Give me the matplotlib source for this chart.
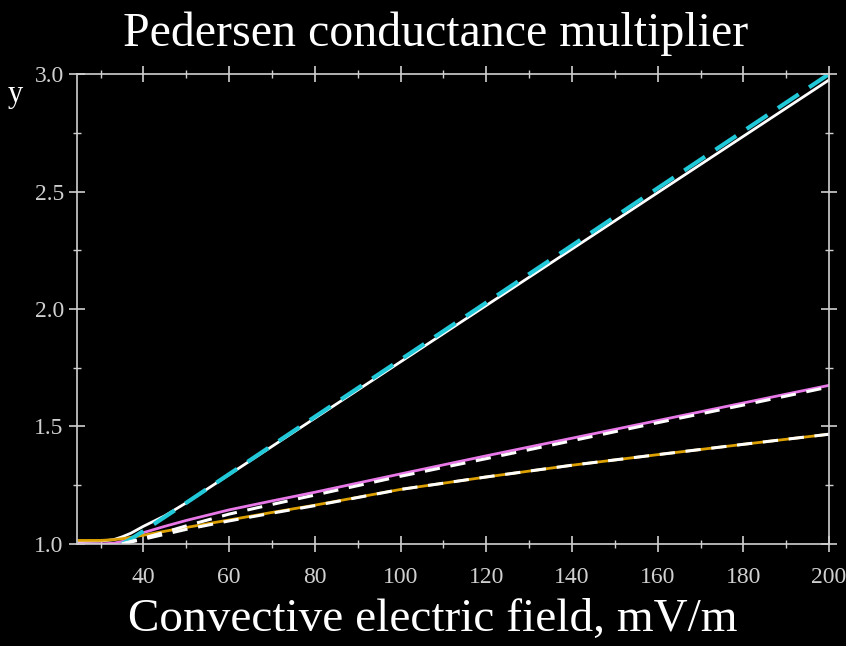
import numpy as np
import matplotlib.pyplot as plt
from matplotlib.ticker import MultipleLocator

# Convective electric field (mV/m)
e_solid = [25, 30, 33, 35, 37, 40, 45, 50, 60, 70, 80, 100, 120, 140, 160, 180, 200]
e_dash = [35, 37, 40, 45, 50, 60, 70, 80, 100, 120, 140, 160, 180, 200]

# solid curves
top_solid = [1.01, 1.012, 1.018, 1.03, 1.045, 1.075, 1.12, 1.175, 1.295, 1.415, 1.535,
             1.775, 2.015, 2.255, 2.495, 2.735, 2.975]
mid_solid = [1.0, 1.0, 1.003, 1.01, 1.022, 1.048, 1.075, 1.10, 1.145, 1.183, 1.22,
             1.298, 1.375, 1.45, 1.525, 1.60, 1.675]
low_solid = [1.015, 1.015, 1.018, 1.022, 1.028, 1.037, 1.054, 1.07, 1.102, 1.134, 1.165,
             1.232, 1.285, 1.335, 1.38, 1.424, 1.467]

# dashed curves
top_dash = [1.0, 1.02, 1.055, 1.115, 1.175, 1.297, 1.419, 1.541, 1.784, 2.027, 2.27,
            2.514, 2.757, 3.0]
mid_dash = [1.0, 1.01, 1.025, 1.05, 1.077, 1.127, 1.168, 1.208, 1.288, 1.363, 1.439,
            1.516, 1.591, 1.668]
low_dash = [1.0, 1.008, 1.02, 1.041, 1.062, 1.098, 1.131, 1.163, 1.232, 1.285, 1.335,
            1.38, 1.424, 1.467]

fig = plt.figure(figsize=(8.46, 6.46), dpi=100, facecolor='black')
ax = fig.add_axes([0.091, 0.158, 0.889, 0.7274], facecolor='black')

ax.plot(e_solid, top_solid, color='white', lw=2.0)
ax.plot(e_solid, mid_solid, color='#e878e8', lw=2.0)
ax.plot(e_solid, low_solid, color='#dca000', lw=2.0)
ax.plot(e_dash, top_dash, color='#20c8d8', lw=3.0, dashes=(6, 3))
ax.plot(e_dash, mid_dash, color='white', lw=2.2, dashes=(5, 3.5))
ax.plot(e_dash, low_dash, color='white', lw=2.2, dashes=(5, 3.5))

ax.set_xlim(24.5, 200)
ax.set_ylim(1.0, 3.0)
ax.xaxis.set_major_locator(MultipleLocator(20))
ax.xaxis.set_minor_locator(MultipleLocator(10))
ax.yaxis.set_major_locator(MultipleLocator(0.5))
ax.yaxis.set_minor_locator(MultipleLocator(0.25))
ax.set_xticks([40, 60, 80, 100, 120, 140, 160, 180, 200])

gray = '#d0d0d0'
for s in ax.spines.values():
    s.set_color(gray)
    s.set_linewidth(1.2)
ax.tick_params(which='both', direction='inout', colors=gray, top=True, right=True,
               labelfontfamily='Liberation Serif', labelsize=17)
ax.tick_params(which='major', length=11, width=1.2)
ax.tick_params(which='minor', length=6, width=1.0)
ax.tick_params(axis='x', pad=11)
ax.tick_params(axis='y', pad=4)

fig.text(0.515, 0.947, 'Pedersen conductance multiplier', color='white', ha='center', va='center',
         fontsize=34.5, family='Liberation Serif')
fig.text(0.511, 0.040, 'Convective electric field, mV/m', color='white', ha='center', va='center',
         fontsize=34, family='Liberation Serif')
fig.text(0.018, 0.853, 'y', color='white', ha='center', va='center',
         fontsize=22, family='Liberation Serif')

fig.savefig('out.png', dpi=100, facecolor='black')
